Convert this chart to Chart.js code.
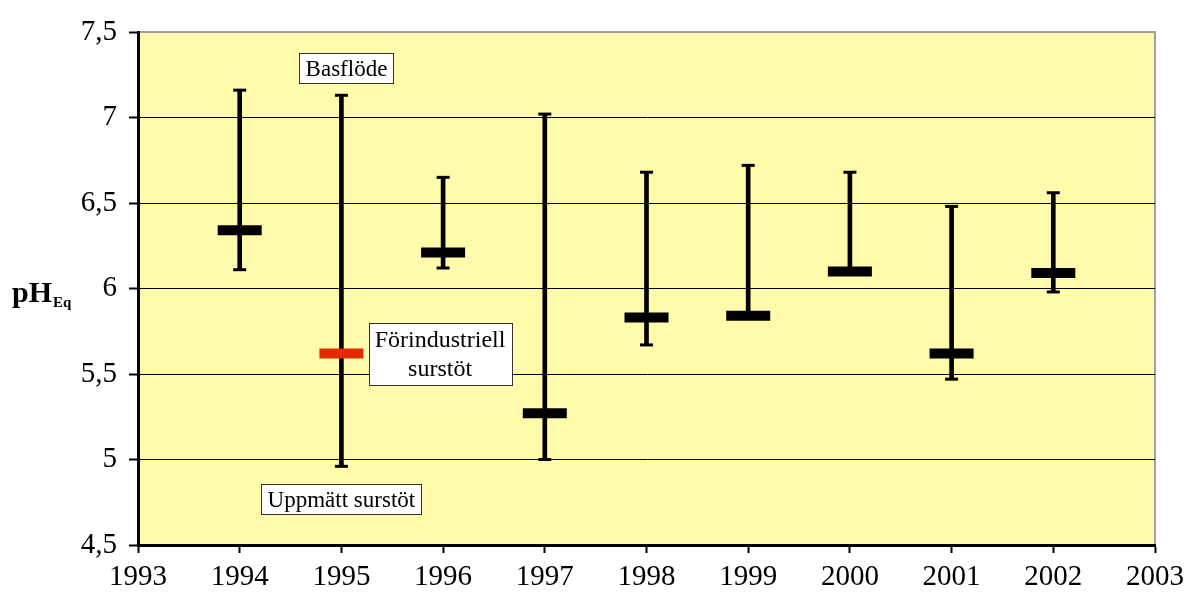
<!DOCTYPE html>
<html>
<head>
<meta charset="utf-8">
<script src="https://cdn.jsdelivr.net/npm/chart.js@4.4.1/dist/chart.umd.min.js"></script>
<style>
  html, body { margin: 0; padding: 0; background: #ffffff; }
  #wrap { width: 1187px; height: 592px; }
</style>
</head>
<body>
<div id="wrap"><canvas id="c" width="1187" height="592"></canvas></div>
<script>
// pH_Eq per year: measured range (low..high) and the surge value marker
const years  = [1994, 1995, 1996, 1997, 1998, 1999, 2000, 2001, 2002];
const phHigh = [7.16, 7.13, 6.65, 7.02, 6.68, 6.72, 6.68, 6.48, 6.56];
const phLow  = [6.11, 4.96, 6.12, 5.00, 5.67, 5.84, 6.10, 5.47, 5.98];
const phMark = [6.34, 5.62, 6.21, 5.27, 5.83, 5.84, 6.10, 5.62, 6.09];
// the 1995 marker is the pre-industrial surge estimate
const markColors = ['#000', '#E42A00', '#000', '#000', '#000', '#000', '#000', '#000', '#000'];

const xTicks = [1993, 1994, 1995, 1996, 1997, 1998, 1999, 2000, 2001, 2002, 2003];
const yTicks = [4.5, 5, 5.5, 6, 6.5, 7, 7.5];

// boxed annotations, anchored in data coordinates (year, pH)
const noteLines = [['Basflöde'], ['Förindustriell', 'surstöt'], ['Uppmätt surstöt']];
const noteX = [1995.05, 1995.97, 1995.0];
const noteY = [7.29, 5.617, 4.77];
const noteSize = [23, 24, 23];
const noteLineHeight = [26, 29, 26];

const SERIF = '"Liberation Serif", "Times New Roman", serif';

const plotBackground = {
  id: 'plotBackground',
  beforeDraw(chart) {
    const { ctx, chartArea: a } = chart;
    ctx.save();
    ctx.fillStyle = '#FFFBAA';
    ctx.fillRect(a.left, a.top, a.right - a.left, a.bottom - a.top);
    ctx.strokeStyle = '#a0a0a0';
    ctx.lineWidth = 2;
    ctx.beginPath();
    ctx.moveTo(a.left, a.top);
    ctx.lineTo(a.right, a.top);
    ctx.lineTo(a.right, a.bottom);
    ctx.stroke();
    ctx.restore();
  }
};

const notesAndTitle = {
  id: 'notesAndTitle',
  afterDatasetsDraw(chart) {
    const { ctx, scales } = chart;
    ctx.save();
    ctx.textAlign = 'center';
    ctx.textBaseline = 'middle';
    noteLines.forEach((lines, i) => {
      ctx.font = noteSize[i] + 'px ' + SERIF;
      const lh = noteLineHeight[i];
      const cx = scales.x.getPixelForValue(noteX[i]);
      const cy = scales.y.getPixelForValue(noteY[i]);
      const w = Math.round(Math.max(...lines.map(t => ctx.measureText(t).width)) + 12);
      const h = lines.length * lh + 4;
      const left = Math.round(cx - w / 2) + 0.5;
      const top = Math.round(cy - h / 2) + 0.5;
      ctx.fillStyle = '#ffffff';
      ctx.fillRect(left, top, w, h);
      ctx.strokeStyle = '#333333';
      ctx.lineWidth = 1;
      ctx.strokeRect(left, top, w, h);
      ctx.fillStyle = '#000000';
      lines.forEach((t, k) => {
        ctx.fillText(t, cx, top + 2 + lh * k + lh / 2 + 1);
      });
    });
    ctx.restore();

    // y-axis title: pH with subscript Eq
    ctx.save();
    ctx.fillStyle = '#000';
    ctx.textAlign = 'left';
    ctx.textBaseline = 'alphabetic';
    ctx.font = 'bold 30px ' + SERIF;
    ctx.fillText('pH', 12, 302);
    const pw = ctx.measureText('pH').width;
    ctx.font = 'bold 15px ' + SERIF;
    ctx.fillText('Eq', 12 + pw + 1, 307);
    ctx.restore();
  }
};

new Chart(document.getElementById('c'), {
  type: 'bar',
  data: {
    datasets: [
      {
        type: 'scatter',
        label: 'marker',
        data: years.map((y, i) => ({ x: y, y: phMark[i] })),
        pointStyle: 'line',
        pointRadius: 22,
        pointBorderWidth: 10,
        pointBorderColor: markColors,
        pointBackgroundColor: markColors,
        showLine: false,
        order: 0
      },
      {
        type: 'scatter',
        label: 'caps',
        data: years.map((y, i) => ({ x: y, y: phHigh[i] }))
          .concat(years.map((y, i) => ({ x: y, y: phLow[i] }))),
        pointStyle: 'line',
        pointRadius: 6.5,
        pointBorderWidth: 3,
        pointBorderColor: '#000',
        showLine: false,
        order: 1
      },
      {
        type: 'bar',
        label: 'range',
        data: years.map((y, i) => ({ x: y, y: [phLow[i], phHigh[i]] })),
        backgroundColor: '#000',
        borderWidth: 0,
        barThickness: 4,
        order: 2
      }
    ]
  },
  options: {
    responsive: false,
    animation: false,
    devicePixelRatio: 1,
    layout: { padding: { left: 0, top: 29, right: 32, bottom: 0 } },
    plugins: { legend: { display: false }, tooltip: { enabled: false } },
    scales: {
      x: {
        type: 'linear',
        min: 1993,
        max: 2003,
        offset: false,
        afterBuildTicks: s => { s.ticks = xTicks.map(v => ({ value: v })); },
        afterFit: s => { s.height = 47; s.paddingLeft = 0; s.paddingRight = 0; },
        ticks: {
          color: '#000',
          font: { family: SERIF, size: 29 },
          padding: 7,
          maxRotation: 0,
          autoSkip: false,
          callback: v => String(v)
        },
        grid: {
          offset: false,
          drawOnChartArea: false,
          drawTicks: true,
          tickLength: 8,
          tickColor: '#000',
          tickWidth: 2
        },
        border: { color: '#000', width: 3 }
      },
      y: {
        type: 'linear',
        min: 4.5,
        max: 7.5,
        afterBuildTicks: s => { s.ticks = yTicks.map(v => ({ value: v })); },
        afterFit: s => { s.width = 138; },
        ticks: {
          color: '#000',
          font: { family: SERIF, size: 29 },
          padding: 12,
          callback: v => String(v).replace('.', ',')
        },
        grid: {
          color: c => (c.tick && (c.tick.value === 7.5 || c.tick.value === 4.5)) ? 'rgba(0,0,0,0)' : '#000',
          lineWidth: 1,
          drawTicks: true,
          tickLength: 9,
          tickColor: '#000',
          tickWidth: 2
        },
        border: { color: '#000', width: 3 }
      }
    }
  },
  plugins: [plotBackground, notesAndTitle]
});
</script>
</body>
</html>
